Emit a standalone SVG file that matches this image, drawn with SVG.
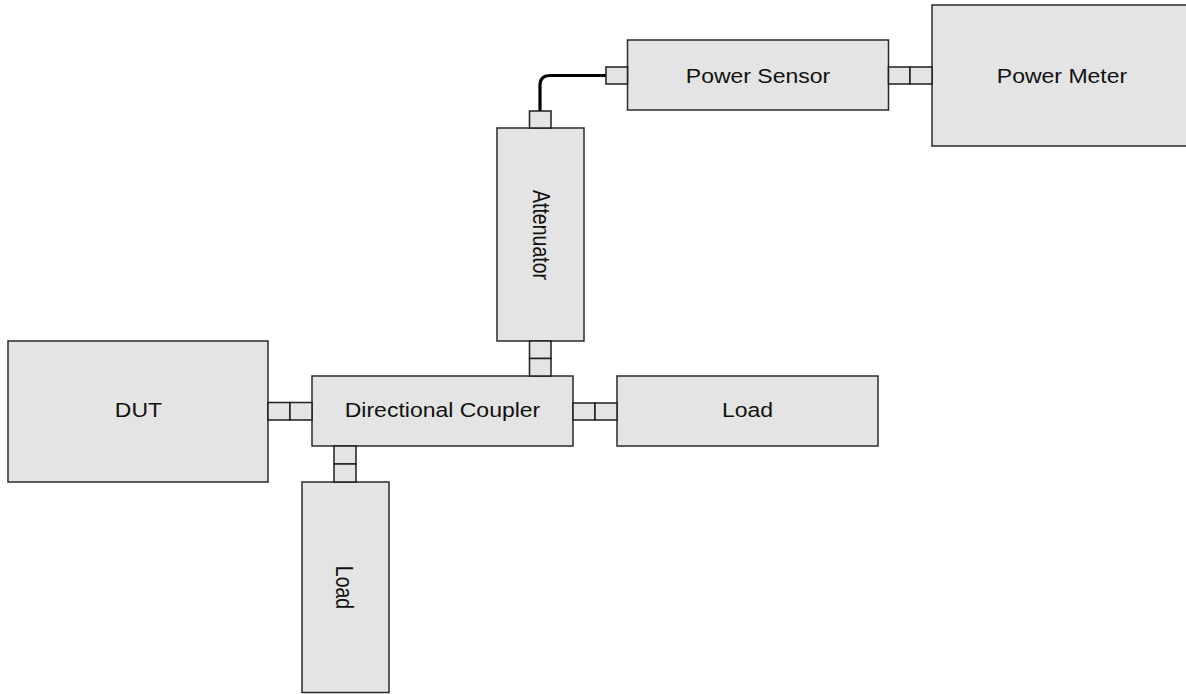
<svg xmlns="http://www.w3.org/2000/svg" width="1186" height="694" viewBox="0 0 1186 694">
  <style>
    .box { fill: #e4e4e4; stroke: #2b2b2b; stroke-width: 1.5; }
    .adapter { fill: #e4e4e4; stroke: #1e1e1e; stroke-width: 1.5; }
    .cable { fill: none; stroke: #000; stroke-width: 3.2; }
    .lbl { font-family: "Liberation Sans", Arial, sans-serif; font-size: 19.5px; fill: #111; text-anchor: middle; }
  </style>
  <rect width="1186" height="694" fill="#fff"/>

  <!-- instruments and components -->
  <g id="power-meter">
    <rect class="box" x="932" y="5" width="262" height="141"/>
    <text class="lbl" transform="translate(1062,82.5) scale(1.18,1)">Power Meter</text>
  </g>
  <g id="power-sensor">
    <rect class="box" x="627.5" y="40" width="261" height="70"/>
    <text class="lbl" transform="translate(758,82.5) scale(1.18,1)">Power Sensor</text>
  </g>
  <g id="attenuator">
    <rect class="box" x="497" y="128" width="87" height="213"/>
    <text class="lbl" transform="translate(533,235) scale(1.18,1) rotate(90)">Attenuator</text>
  </g>
  <g id="dut">
    <rect class="box" x="8" y="341" width="260" height="141"/>
    <text class="lbl" transform="translate(138.5,417) scale(1.18,1)">DUT</text>
  </g>
  <g id="directional-coupler">
    <rect class="box" x="312" y="376" width="261" height="70"/>
    <text class="lbl" transform="translate(442.5,417) scale(1.18,1)">Directional Coupler</text>
  </g>
  <g id="load-through">
    <rect class="box" x="617" y="376" width="261" height="70"/>
    <text class="lbl" transform="translate(747.5,417) scale(1.18,1)">Load</text>
  </g>
  <g id="load-coupled">
    <rect class="box" x="302" y="482" width="87" height="210.5"/>
    <text class="lbl" transform="translate(336,587.5) scale(1.18,1) rotate(90)">Load</text>
  </g>

  <!-- adapters and cable between the components -->
  <g id="connectors">
    <path class="cable" d="M606,75.5 H550 Q540,75.5 540,85.5 V111"/>
    <rect class="adapter" x="606" y="67" width="21.5" height="17"/>
    <rect class="adapter" x="888.5" y="67" width="21.5" height="17"/>
    <rect class="adapter" x="910" y="67" width="22" height="17"/>
    <rect class="adapter" x="529.5" y="111" width="21.5" height="17"/>
    <rect class="adapter" x="529.5" y="341" width="21.5" height="17.5"/>
    <rect class="adapter" x="529.5" y="358.5" width="21.5" height="17.5"/>
    <rect class="adapter" x="268" y="402.5" width="22" height="17.5"/>
    <rect class="adapter" x="290" y="402.5" width="22" height="17.5"/>
    <rect class="adapter" x="573" y="403" width="22" height="17"/>
    <rect class="adapter" x="595" y="403" width="22" height="17"/>
    <rect class="adapter" x="334" y="446" width="22" height="18"/>
    <rect class="adapter" x="334" y="464" width="22" height="18"/>
  </g>
</svg>
